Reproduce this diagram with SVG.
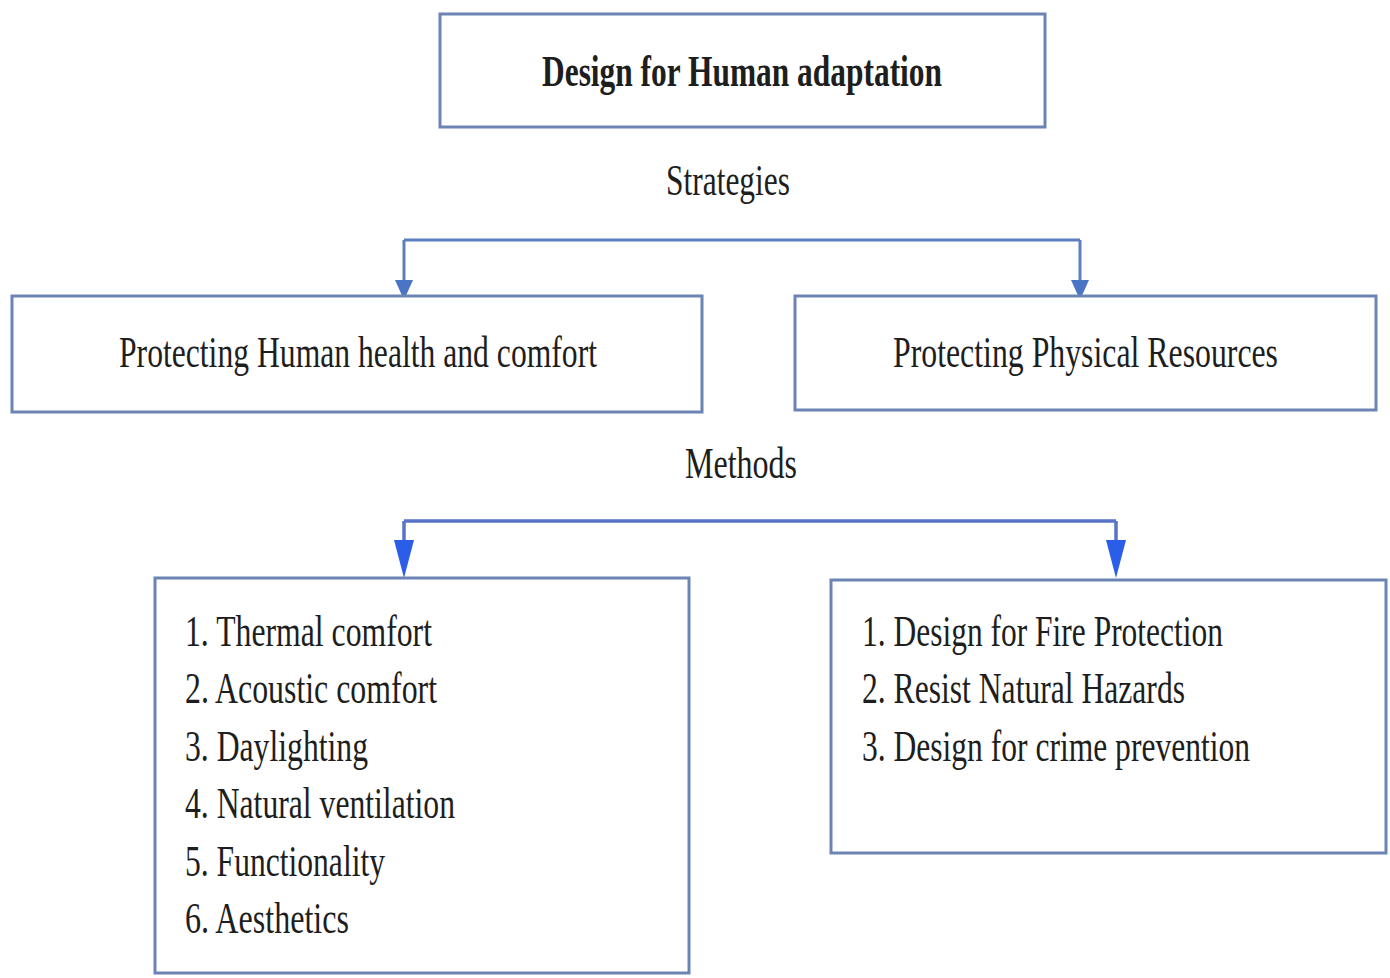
<svg xmlns="http://www.w3.org/2000/svg" width="1390" height="978" viewBox="0 0 1390 978">
<style>
.box{fill:#fff;stroke:#6b84b4;stroke-width:3}
.t{font-family:"Liberation Serif","Times New Roman",serif;font-size:44px;fill:#1e1e1e}
.b{font-weight:bold}
.c{fill:none;stroke:#5d7ec0;stroke-width:3}
.c2{fill:none;stroke:#5873c8;stroke-width:3.5}
</style>
<rect width="1390" height="978" fill="#fff"/>
<g id="connectors">
<path class="c" d="M404,240 H1080 M404,240 V282 M1080,240 V282"/>
<polygon points="395,280 413,280 404,300" fill="#4a74c4"/>
<polygon points="1071,280 1089,280 1080,300" fill="#4a74c4"/>
<path class="c2" d="M404,521 H1116 M404,521 V545 M1116,521 V545"/>
<polygon points="394,540 414,540 404,578" fill="#2a5ee8"/>
<polygon points="1106,540 1126,540 1116,578" fill="#2a5ee8"/>
</g>
<g id="title">
<rect class="box" x="440" y="14" width="605" height="113"/>
<text class="t b" x="542" y="86" textLength="400" lengthAdjust="spacingAndGlyphs">Design for Human adaptation</text>
</g>
<g id="label-strategies">
<text class="t" x="666" y="195" textLength="124" lengthAdjust="spacingAndGlyphs">Strategies</text>
</g>
<g id="health">
<rect class="box" x="12" y="296" width="690" height="116"/>
<text class="t" x="119" y="367" textLength="478" lengthAdjust="spacingAndGlyphs">Protecting Human health and comfort</text>
</g>
<g id="physical">
<rect class="box" x="795" y="296" width="581" height="114"/>
<text class="t" x="893" y="367" textLength="385" lengthAdjust="spacingAndGlyphs">Protecting Physical Resources</text>
</g>
<g id="label-methods">
<text class="t" x="685" y="478" textLength="112" lengthAdjust="spacingAndGlyphs">Methods</text>
</g>
<g id="health-methods">
<rect class="box" x="155" y="578" width="534" height="395"/>
<text class="t" x="185" y="646" textLength="247" lengthAdjust="spacingAndGlyphs">1. Thermal comfort</text>
<text class="t" x="185" y="703" textLength="252" lengthAdjust="spacingAndGlyphs">2. Acoustic comfort</text>
<text class="t" x="185" y="761" textLength="183" lengthAdjust="spacingAndGlyphs">3. Daylighting</text>
<text class="t" x="185" y="818" textLength="270" lengthAdjust="spacingAndGlyphs">4. Natural ventilation</text>
<text class="t" x="185" y="876" textLength="200" lengthAdjust="spacingAndGlyphs">5. Functionality</text>
<text class="t" x="185" y="933" textLength="164" lengthAdjust="spacingAndGlyphs">6. Aesthetics</text>
</g>
<g id="physical-methods">
<rect class="box" x="831" y="580" width="555" height="273"/>
<text class="t" x="862" y="646" textLength="361" lengthAdjust="spacingAndGlyphs">1. Design for Fire Protection</text>
<text class="t" x="862" y="703" textLength="323" lengthAdjust="spacingAndGlyphs">2. Resist Natural Hazards</text>
<text class="t" x="862" y="761" textLength="388" lengthAdjust="spacingAndGlyphs">3. Design for crime prevention</text>
</g>
</svg>
